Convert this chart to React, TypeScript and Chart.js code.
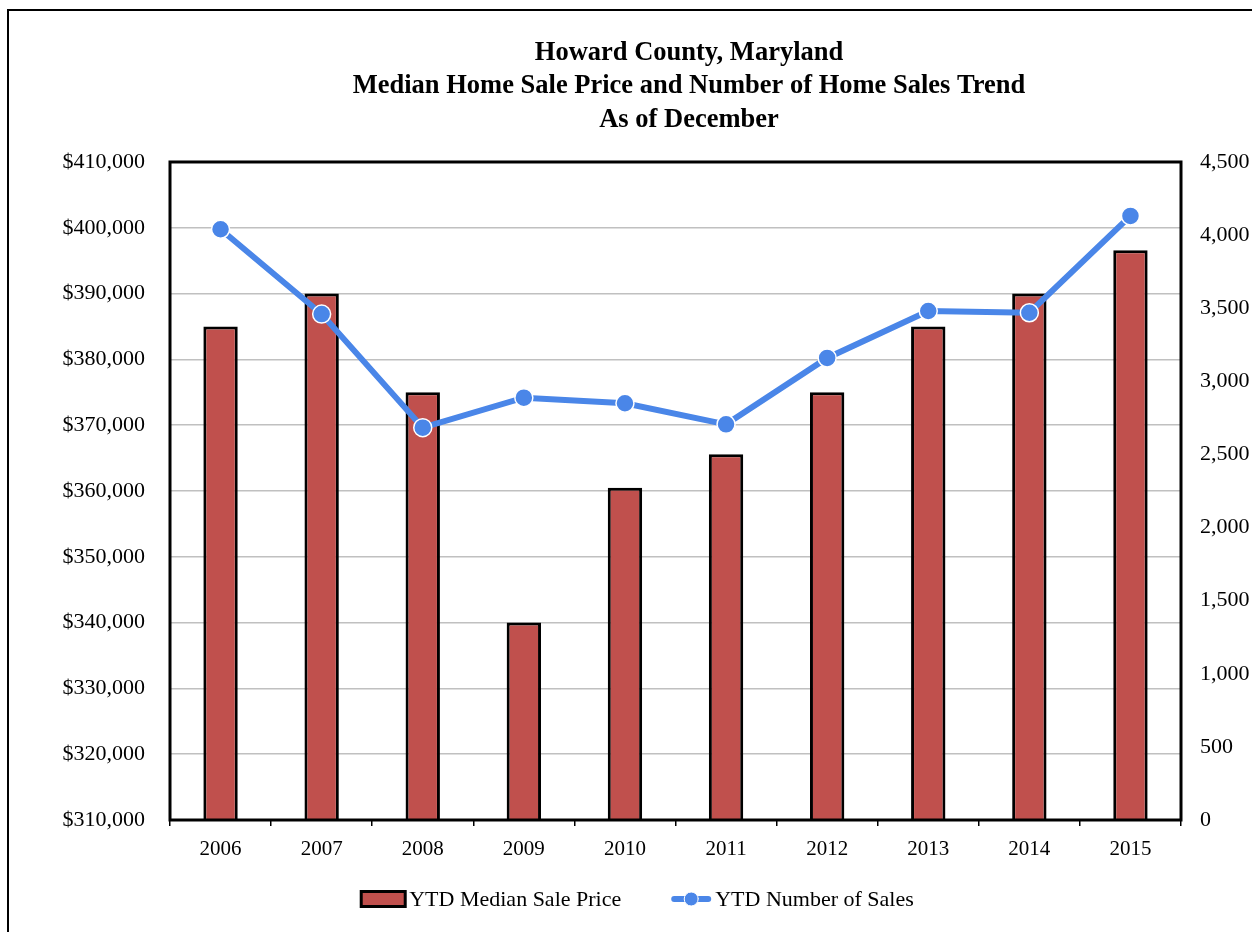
import React, { useEffect, useRef } from "react";
import { Chart, registerables } from "chart.js";

Chart.register(...registerables);

// ---- Data ----
const years = ["2006", "2007", "2008", "2009", "2010", "2011", "2012", "2013", "2014", "2015"];
const medianSalePrice = [385000, 390000, 375000, 340000, 360500, 365600, 375000, 385000, 390000, 396600];
const numberOfSales = [4040, 3460, 2683, 2888, 2850, 2706, 3160, 3481, 3469, 4131];
const titleLines = [
  "Howard County, Maryland",
  "Median Home Sale Price and Number of Home Sales Trend",
  "As of December",
];
const legendLabels = ["YTD Median Sale Price", "YTD Number of Sales"];
const priceAxis = { min: 310000, max: 410000, step: 10000 };
const salesAxis = { min: 0, max: 4500, step: 500 };

// ---- Styles ----
const FONT = "'Liberation Serif', 'Times New Roman', serif";
const BAR_COLOR = "#C0504D";
const LINE_COLOR = "#4A86E8";
const LEGEND_CENTER_X = 637.5;
const CANVAS_W = 1378;
const CANVAS_H = 932;

const framePlugin = {
  id: "frame",
  afterDatasetsDraw(chart: any) {
    const { ctx, chartArea } = chart;
    ctx.save();
    ctx.strokeStyle = "#000";
    ctx.lineWidth = 3;
    ctx.strokeRect(chartArea.left, chartArea.top, chartArea.right - chartArea.left, chartArea.bottom - chartArea.top);
    ctx.restore();
  },
};

const legendPlugin = {
  id: "customLegend",
  afterDraw(chart: any) {
    const { ctx, chartArea } = chart;
    ctx.save();
    ctx.font = `22px ${FONT}`;
    ctx.textBaseline = "middle";
    ctx.textAlign = "left";
    ctx.fillStyle = "#000";
    const boxW = 44;
    const boxH = 15;
    const gap = 4;
    const itemGap = 50;
    const lineW = 40;
    const w0 = ctx.measureText(legendLabels[0]).width;
    const w1 = ctx.measureText(legendLabels[1]).width;
    const total = boxW + gap + w0 + itemGap + lineW + gap + w1;
    let x = LEGEND_CENTER_X - total / 2;
    const y = chartArea.bottom + 79;
    // bar item
    ctx.fillStyle = BAR_COLOR;
    ctx.fillRect(x, y - boxH / 2, boxW, boxH);
    ctx.strokeStyle = "#000";
    ctx.lineWidth = 3;
    ctx.strokeRect(x, y - boxH / 2, boxW, boxH);
    ctx.fillStyle = "#000";
    ctx.fillText(legendLabels[0], x + boxW + gap, y + 1);
    x += boxW + gap + w0 + itemGap;
    // line item
    ctx.strokeStyle = LINE_COLOR;
    ctx.lineWidth = 6;
    ctx.lineCap = "round";
    ctx.beginPath();
    ctx.moveTo(x + 3, y);
    ctx.lineTo(x + lineW - 3, y);
    ctx.stroke();
    ctx.fillStyle = LINE_COLOR;
    ctx.beginPath();
    ctx.arc(x + lineW / 2, y, 7, 0, Math.PI * 2);
    ctx.fill();
    ctx.strokeStyle = "#fff";
    ctx.lineWidth = 1;
    ctx.stroke();
    ctx.fillStyle = "#000";
    ctx.fillText(legendLabels[1], x + lineW + gap, y + 1);
    ctx.restore();
  },
};

export default function App() {
  const canvasRef = useRef<HTMLCanvasElement | null>(null);

  useEffect(() => {
    const canvas = canvasRef.current;
    if (!canvas) return;
    const chart = new Chart(canvas, {
      type: "bar",
      data: {
        labels: years,
        datasets: [
          {
            type: "line",
            label: legendLabels[1],
            data: numberOfSales,
            yAxisID: "y1",
            borderColor: LINE_COLOR,
            backgroundColor: LINE_COLOR,
            borderWidth: 6,
            pointRadius: 9,
            pointBackgroundColor: LINE_COLOR,
            pointBorderColor: "#ffffff",
            pointBorderWidth: 1.5,
            tension: 0,
            order: 0,
          } as any,
          {
            type: "bar",
            label: legendLabels[0],
            data: medianSalePrice,
            yAxisID: "y",
            backgroundColor: BAR_COLOR,
            borderColor: "#000000",
            borderWidth: 3,
            barPercentage: 0.34,
            categoryPercentage: 1,
            order: 1,
          } as any,
        ],
      },
      options: {
        animation: false,
        responsive: false,
        maintainAspectRatio: false,
        devicePixelRatio: 1,
        layout: { padding: 0 },
        plugins: {
          legend: { display: false },
          tooltip: { enabled: false },
          title: {
            display: true,
            text: titleLines,
            color: "#000",
            font: { family: FONT, size: 26.5, weight: "bold", lineHeight: 1.264 },
            padding: { top: 36, bottom: 25.5 },
          },
        },
        scales: {
          x: {
            offset: true,
            grid: {
              display: true,
              offset: true,
              drawOnChartArea: false,
              drawTicks: true,
              tickLength: 6,
              color: "#000",
              lineWidth: 1.5,
            },
            border: { display: false },
            ticks: {
              color: "#000",
              font: { family: FONT, size: 21 },
              padding: 11,
              maxRotation: 0,
              autoSkip: false,
            },
            afterFit: (s: any) => {
              s.height = 112;
            },
          },
          y: {
            position: "left",
            min: priceAxis.min,
            max: priceAxis.max,
            grid: { color: "#C0C0C0", lineWidth: 1.5, drawTicks: false },
            border: { display: false },
            ticks: {
              stepSize: priceAxis.step,
              color: "#000",
              font: { family: FONT, size: 22 },
              padding: 25,
              callback: (v: any) => "$" + Number(v).toLocaleString("en-US"),
            },
            afterFit: (s: any) => {
              s.width = 170;
            },
          },
          y1: {
            position: "right",
            min: salesAxis.min,
            max: salesAxis.max,
            grid: { display: false, drawTicks: false },
            border: { display: false },
            ticks: {
              stepSize: salesAxis.step,
              color: "#000",
              font: { family: FONT, size: 22 },
              padding: 19,
              callback: (v: any) => Number(v).toLocaleString("en-US"),
            },
            afterFit: (s: any) => {
              s.width = CANVAS_W - 1181;
            },
          },
        },
      } as any,
      plugins: [framePlugin, legendPlugin],
    });
    return () => chart.destroy();
  }, []);

  return (
    <div style={{ position: "fixed", inset: 0, overflow: "hidden", background: "#fff" }}>
      <div
        style={{
          position: "absolute",
          left: 7,
          top: 9,
          width: 1500,
          height: 1100,
          border: "2px solid #000",
          boxSizing: "border-box",
        }}
      />
      <canvas
        ref={canvasRef}
        width={CANVAS_W}
        height={CANVAS_H}
        style={{ position: "absolute", left: 0, top: 0, width: CANVAS_W, height: CANVAS_H }}
      />
    </div>
  );
}
